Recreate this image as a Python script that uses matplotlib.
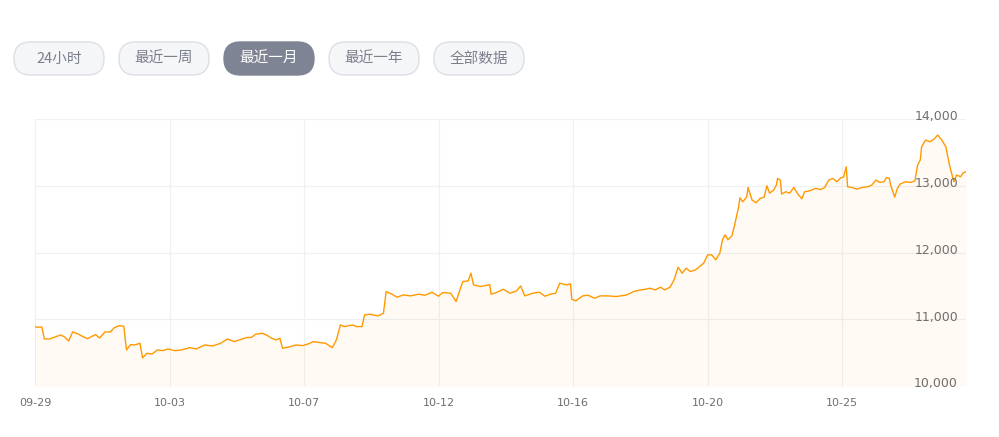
import matplotlib.pyplot as plt
from matplotlib.patches import FancyBboxPatch
import matplotlib.transforms as mtransforms

plt.rcParams['font.family'] = ['Noto Sans CJK SC', 'DejaVu Sans']

# range buttons
buttons = ['24小时', '最近一周', '最近一月', '最近一年', '全部数据']
active = 2

# sample index (category axis) and price values
idx = [0, 2, 5, 7, 11, 15, 19, 22, 25, 28, 32, 36, 39, 45, 48, 52, 56, 59, 63, 66,
       68, 71, 74, 78, 80, 83, 87, 91, 95, 99, 104, 109, 115, 120, 126, 132, 138, 143, 148, 152,
       157, 161, 164, 169, 172, 176, 179, 182, 184, 190, 194, 199, 203, 207, 212, 216, 221, 224, 227, 230,
       236, 239, 243, 245, 249, 255, 259, 261, 265, 269, 274, 279, 285, 290, 295, 300, 303, 309, 313, 316,
       318, 322, 324, 326, 331, 335, 338, 339, 343, 348, 353, 358, 361, 364, 370, 375, 379, 383, 387, 390,
       395, 398, 399, 402, 407, 411, 416, 420, 426, 432, 440, 445, 450, 454, 457, 461, 465, 468, 472, 475,
       478, 481, 484, 487, 491, 494, 497, 500, 503, 506, 509, 511, 513, 515, 518, 520, 523, 524, 526, 529,
       530, 533, 536, 539, 542, 544, 546, 549, 551, 552, 554, 555, 558, 561, 564, 567, 570, 572, 576, 580,
       584, 587, 590, 593, 596, 599, 601, 603, 604, 607, 611, 615, 619, 622, 625, 628, 631, 633, 635, 636,
       639, 641, 643, 647, 651, 654, 656, 658, 659, 662, 665, 668, 671, 674, 677, 680, 683, 685, 688, 690,
       692]
price = [10890, 10880, 10885, 10705, 10705, 10735, 10765, 10735, 10675, 10810, 10780, 10735, 10710, 10770, 10720, 10810, 10810, 10875, 10905, 10895,
         10540, 10620, 10615, 10640, 10420, 10490, 10480, 10540, 10530, 10555, 10530, 10540, 10575, 10555, 10615, 10600, 10640, 10705, 10665, 10690,
         10725, 10730, 10775, 10790, 10765, 10715, 10690, 10715, 10565, 10590, 10615, 10605, 10630, 10665, 10650, 10640, 10575, 10690, 10915, 10890,
         10915, 10890, 10890, 11065, 11075, 11050, 11090, 11415, 11380, 11330, 11365, 11350, 11375, 11360, 11405, 11345, 11400, 11390, 11265, 11450,
         11565, 11575, 11690, 11515, 11490, 11505, 11520, 11375, 11400, 11450, 11390, 11425, 11500, 11350, 11390, 11405, 11345, 11375, 11390, 11540,
         11515, 11530, 11300, 11275, 11350, 11360, 11315, 11350, 11350, 11340, 11365, 11415, 11440, 11450, 11465, 11440, 11480, 11440, 11480, 11590,
         11780, 11690, 11765, 11715, 11740, 11790, 11840, 11965, 11965, 11890, 11990, 12190, 12265, 12190, 12250, 12410, 12685, 12820, 12760, 12830,
         12975, 12785, 12745, 12810, 12830, 13000, 12890, 12935, 13010, 13110, 13085, 12875, 12910, 12890, 12975, 12875, 12805, 12910, 12925, 12960,
         12945, 12975, 13085, 13110, 13060, 13120, 13130, 13285, 12985, 12975, 12950, 12975, 12985, 13010, 13085, 13050, 13060, 13125, 13110, 13010,
         12830, 12960, 13025, 13060, 13050, 13075, 13310, 13385, 13585, 13685, 13660, 13695, 13760, 13685, 13585, 13285, 13060, 13160, 13135, 13195,
         13210]

tick_idx = [0, 100, 200, 300, 400, 500, 600]
tick_labels = ['09-29', '10-03', '10-07', '10-12', '10-16', '10-20', '10-25']
y_ticks = [10000, 11000, 12000, 13000, 14000]

fig = plt.figure(figsize=(9.99, 4.37), dpi=100)
fig.patch.set_facecolor('white')

# main chart
ax = fig.add_axes([35 / 999, 1 - 386 / 437, 931 / 999, 267 / 437])
ax.set_xlim(0, 692)
ax.set_ylim(10000, 14000)
ax.fill_between(idx, price, 10000, color='#ff9800', alpha=0.045, linewidth=0)
ax.plot(idx, price, color='#ff9900', linewidth=1.0, zorder=3)

for t in tick_idx:
    ax.axvline(t, color='#eef0f3', linewidth=0.9, zorder=0)
for v in y_ticks:
    ax.axhline(v, color='#eef0f3', linewidth=0.9, zorder=0)

ax.set_xticks(tick_idx)
ax.set_xticklabels(tick_labels, fontsize=8, color='#6e6e6e', family='DejaVu Sans')
ax.tick_params(axis='x', length=0, pad=9)
ax.set_yticks([])
for s in ax.spines.values():
    s.set_visible(False)

trans = mtransforms.blended_transform_factory(ax.transAxes, ax.transData)
for v in y_ticks:
    ax.text(0.9914, v + 30, f'{v:,}', transform=trans, ha='right', va='center',
            fontsize=9, color='#6e6e6e', family='DejaVu Sans', zorder=4)

# button row in pixel coordinates
ov = fig.add_axes([0, 0, 1, 1])
ov.set_xlim(0, 999)
ov.set_ylim(437, 0)
ov.axis('off')
x0 = 14
for i, label in enumerate(buttons):
    is_on = i == active
    box = FancyBboxPatch((x0, 42), 90, 33, boxstyle='round,pad=0,rounding_size=16.5',
                         facecolor='#7f8494' if is_on else '#f5f6f8',
                         edgecolor='#7f8494' if is_on else '#dcdfe6', linewidth=1.0)
    ov.add_patch(box)
    ov.text(x0 + 45, 58.5, label, ha='center', va='center', fontsize=10.5,
            color='white' if is_on else '#7a7f8c')
    x0 += 105

fig.savefig('out.png', dpi=100)
